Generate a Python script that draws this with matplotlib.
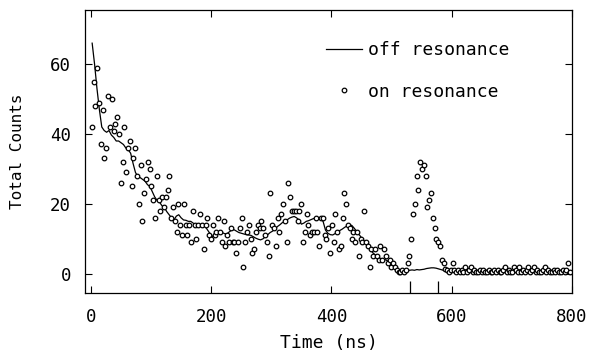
import numpy as np
import matplotlib
matplotlib.use("Agg")
import matplotlib.pyplot as plt
import matplotlib.transforms as mtransforms

# on resonance counts, 3 ns bins starting at 1.5 ns
on_bin = 3.0
on_counts = [
    42, 55, 48, 59, 49, 37, 47, 33, 36, 51,
    42, 50, 41, 43, 45, 40, 26, 32, 42, 29,
    36, 38, 25, 33, 36, 28, 20, 31, 15, 23,
    27, 32, 30, 25, 21, 16, 28, 21, 18, 22,
    19, 22, 24, 28, 16, 19, 15, 12, 20, 14,
    11, 20, 14, 11, 14, 9, 18, 14, 10, 14,
    17, 14, 7, 14, 16, 11, 10, 14, 11, 12,
    16, 12, 9, 15, 8, 11, 9, 13, 9, 9,
    6, 9, 13, 16, 2, 9, 12, 14, 10, 6,
    7, 12, 14, 13, 15, 13, 11, 9, 5, 23,
    14, 13, 8, 16, 12, 17, 20, 15, 9, 26,
    22, 18, 18, 18, 15, 18, 20, 9, 12, 17,
    14, 11, 12, 12, 16, 12, 8, 16, 16, 11,
    10, 13, 6, 14, 9, 17, 12, 7, 8, 16,
    23, 20, 14, 13, 10, 12, 9, 12, 5, 10,
    9, 18, 9, 8, 2, 7, 5, 7, 5, 4,
    8, 4, 7, 5, 3, 4, 2, 3, 2, 1,
    0.5, 0.5, 1, 0.5, 1, 3, 5, 10, 17, 20,
    28, 24, 32, 30, 31, 28, 19, 21, 23, 16,
    13, 10, 9, 8, 4, 3, 1.5, 1, 0.5, 1,
    3, 1, 0.5, 1, 0.5, 1, 0.5, 2, 0.5, 1,
    2, 0.5, 1, 0.5, 0.5, 1, 0.5, 1, 0.5, 0.5,
    1, 0.5, 0.5, 1, 0.5, 1, 0.5, 0.5, 1, 2,
    0.5, 1, 0.5, 0.5, 2, 1, 0.5, 2, 0.5, 1,
    0.5, 1, 2, 0.5, 1, 2, 0.5, 1, 0.5, 0.5,
    1, 2, 0.5, 1, 0.5, 0.5, 1, 0.5, 1, 0.5,
    0.5, 1, 0.5, 1, 3, 0.5,
]

# off resonance curve, 4 ns bins starting at 2 ns
off_bin = 4.0
off_counts = [
    66, 60, 53, 47, 42, 41, 40.5, 41, 39.7, 39,
    38, 38, 37.5, 37, 36, 35.5, 34.5, 31.6, 29, 27.8,
    27.5, 27, 26.5, 25.5, 25, 23.5, 22, 21, 20.5, 19.5,
    19, 17.8, 16.9, 16, 15.4, 16.5, 16.9, 16, 15.4, 15.3,
    15, 15, 14.5, 14, 14, 14, 13.7, 13.5, 12.5, 11.5,
    10.7, 11, 12, 12, 11.8, 11.5, 11.4, 12, 12.5, 12.6,
    12.2, 11.8, 11.6, 11.4, 11.2, 11.1, 11, 10.6, 10.2, 9.9,
    9.7, 10, 10.6, 11.2, 11.8, 12.2, 12.8, 13.5, 14, 14.6,
    15, 15.4, 15.9, 16.2, 16.4, 16, 15.4, 14.2, 14.5, 15,
    15.2, 15.5, 15.8, 15.9, 15.9, 15.9, 15, 12.5, 11.6, 11.2,
    11.1, 11.5, 12, 12.4, 12.8, 13.3, 13.7, 14, 13.8, 13,
    12.1, 11.2, 10.3, 9.5, 8.8, 7.8, 6.6, 5.8, 5.2, 4.6,
    4.3, 4.1, 4, 3.6, 3.1, 2.5, 2.1, 1.4, 0.8, 0.7,
    0.9, 1, 1, 1.1, 1, 1.2, 1.1, 1.2, 1.3, 1.5,
    1.6, 1.7, 1.7, 1.6, 1.4, 1.2, 1.0, 0.8, 0.7, 0.6,
    0.6, 0.5, 0.6, 0.7, 0.5, 0.6, 0.5, 0.7, 0.6, 0.5,
    0.6, 0.5, 0.7, 0.6, 0.5, 0.6, 0.7, 0.5, 0.6, 0.5,
    0.6, 0.7, 0.5, 0.6, 0.5, 0.6, 0.5, 0.7, 0.6, 0.5,
    0.6, 0.5, 0.6, 0.7, 0.5, 0.6, 0.5, 0.6, 0.5, 0.6,
    0.5, 0.6, 0.5, 0.6, 0.7, 0.6, 0.5, 0.6, 0.5, 0.6,
]

# long marks on the time axis
window_marks = [530, 577]

x_ticks = [0, 200, 400, 600, 800]
y_ticks = [0, 20, 40, 60]

t_on = np.arange(len(on_counts)) * on_bin + on_bin / 2
t_off = np.arange(len(off_counts)) * off_bin + off_bin / 2

# wide monoline lettering like the old plotter font
plt.rcParams['font.family'] = ['DejaVu Sans Mono']
plt.rcParams['font.size'] = 12

fig = plt.figure(figsize=(5.94, 3.56), dpi=100)
ax = fig.add_axes([0.143, 0.177, 0.820, 0.795])

ax.plot(t_off, off_counts, color='black', lw=0.9, label='off resonance')
ax.plot(t_on, on_counts, ls='none', marker='o', ms=3.3, mfc='white',
        mec='black', mew=0.9, label='on resonance')

ax.set_xlim(-10, 800)
ax.set_ylim(-5.5, 75.5)
ax.set_xticks(x_ticks)
ax.set_yticks(y_ticks)
ax.tick_params(direction='in', length=5, width=0.8, top=True, right=True,
               labelsize=12.5)
ax.tick_params(axis='x', pad=11)
ax.tick_params(axis='y', pad=10)
for s in ax.spines.values():
    s.set_linewidth(0.9)

trans = mtransforms.blended_transform_factory(ax.transData, ax.transAxes)
ax.vlines(window_marks, 0, 0.042, colors='black', lw=0.9, transform=trans)

ax.set_xlabel('Time (ns)', fontsize=13)
ax.set_ylabel('Total Counts', fontsize=11.5)
ax.xaxis.set_label_coords(0.5, -0.177, transform=ax.transAxes)
ax.yaxis.set_label_coords(-0.138, 0.5, transform=ax.transAxes)
ax.xaxis.label.set_va('center')
ax.yaxis.label.set_va('center')

ax.legend(loc='upper left', bbox_to_anchor=(0.48, 0.915), frameon=False,
          handlelength=2.0, handletextpad=0.35, labelspacing=1.3,
          fontsize=13, borderaxespad=0)

fig.savefig('out.png', dpi=100)
